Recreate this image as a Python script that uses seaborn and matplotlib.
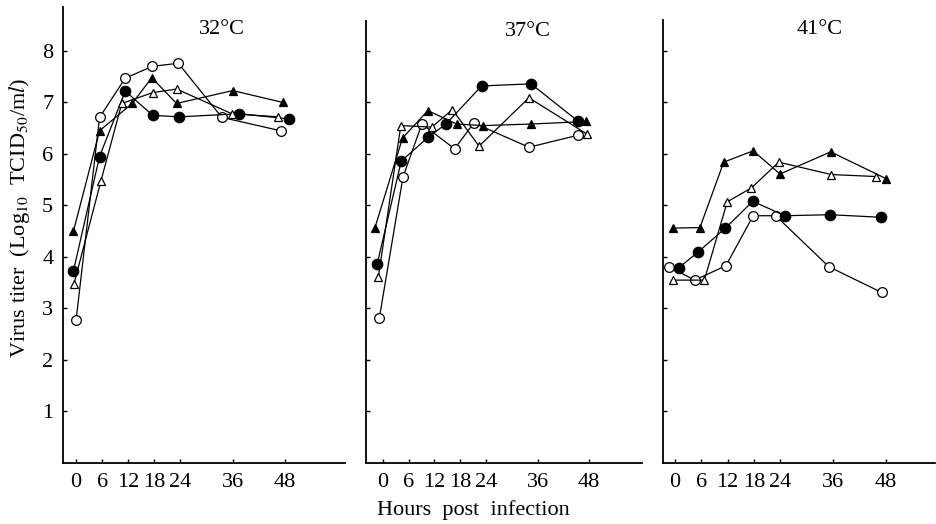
import matplotlib

matplotlib.use("Agg")
import matplotlib.pyplot as plt
import pandas as pd
import seaborn as sns

sns.set_style("ticks")
plt.rcParams["font.family"] = ["Liberation Serif", "DejaVu Serif"]
plt.rcParams["mathtext.fontset"] = "stix"
plt.rcParams["text.color"] = "black"
plt.rcParams["axes.labelcolor"] = "black"

# %%
# values (hours, log10 TCID50/ml)
temps = ["32°C", "37°C", "41°C"]
hour_ticks = [0, 6, 12, 18, 24, 36, 48]
titer_ticks = [1, 2, 3, 4, 5, 6, 7, 8]

# 32 C
h32_open_circ = [0.0, 5.4, 11.3, 17.5, 23.5, 33.5, 47.0]
t32_open_circ = [2.77, 6.71, 7.47, 7.70, 7.76, 6.71, 6.45]
h32_fill_circ = [-0.6, 5.4, 11.3, 17.6, 23.6, 37.5, 48.9]
t32_fill_circ = [3.73, 5.95, 7.22, 6.75, 6.72, 6.78, 6.68]
h32_open_tri = [-0.5, 5.7, 10.5, 17.6, 23.1, 35.8, 46.5]
t32_open_tri = [3.47, 5.47, 6.98, 7.19, 7.26, 6.78, 6.72]
h32_fill_tri = [-0.6, 5.4, 12.9, 17.4, 23.1, 36.0, 47.5]
t32_fill_tri = [4.50, 6.45, 6.98, 7.48, 6.98, 7.23, 7.00]

# 37 C
h37_open_circ = [-0.8, 4.7, 9.1, 16.7, 21.2, 34.0, 45.3]
t37_open_circ = [2.81, 5.55, 6.58, 6.10, 6.60, 6.13, 6.36]
h37_fill_circ = [-1.3, 4.3, 10.5, 14.7, 23.0, 34.5, 45.5]
t37_fill_circ = [3.86, 5.86, 6.32, 6.58, 7.32, 7.36, 6.63]
h37_open_tri = [-1.0, 4.2, 11.4, 16.2, 22.4, 34.0, 47.6]
t37_open_tri = [3.62, 6.55, 6.52, 6.86, 6.15, 7.09, 6.38]
h37_fill_tri = [-1.8, 4.6, 10.5, 17.2, 23.4, 34.5, 47.3]
t37_fill_tri = [4.57, 6.31, 6.84, 6.58, 6.55, 6.58, 6.63]

# 41 C
h41_open_circ = [-1.3, 4.5, 11.6, 17.8, 22.9, 35.0, 47.0]
t41_open_circ = [3.81, 3.55, 3.83, 4.80, 4.80, 3.81, 3.31]
h41_fill_circ = [0.9, 5.2, 11.5, 17.7, 25.0, 35.2, 46.8]
t41_fill_circ = [3.79, 4.09, 4.56, 5.08, 4.80, 4.82, 4.77]
h41_open_tri = [-0.4, 6.7, 11.9, 17.4, 23.6, 35.5, 45.8]
t41_open_tri = [3.55, 3.55, 5.07, 5.34, 5.84, 5.60, 5.56]
h41_fill_tri = [-0.4, 5.7, 11.1, 17.8, 23.9, 35.4, 48.0]
t41_fill_tri = [4.56, 4.57, 5.84, 6.06, 5.61, 6.04, 5.52]

# %%
panels = {
    "32°C": [
        ("open_circ", h32_open_circ, t32_open_circ),
        ("fill_circ", h32_fill_circ, t32_fill_circ),
        ("open_tri", h32_open_tri, t32_open_tri),
        ("fill_tri", h32_fill_tri, t32_fill_tri),
    ],
    "37°C": [
        ("open_circ", h37_open_circ, t37_open_circ),
        ("fill_circ", h37_fill_circ, t37_fill_circ),
        ("open_tri", h37_open_tri, t37_open_tri),
        ("fill_tri", h37_fill_tri, t37_fill_tri),
    ],
    "41°C": [
        ("open_circ", h41_open_circ, t41_open_circ),
        ("fill_circ", h41_fill_circ, t41_fill_circ),
        ("open_tri", h41_open_tri, t41_open_tri),
        ("fill_tri", h41_fill_tri, t41_fill_tri),
    ],
}

marker_styles = {
    "open_circ": dict(marker="o", markersize=7, markerfacecolor="white"),
    "fill_circ": dict(marker="o", markersize=7.5, markerfacecolor="black"),
    "open_tri": dict(marker="^", markersize=6, markerfacecolor="white"),
    "fill_tri": dict(marker="^", markersize=6, markerfacecolor="black"),
}

# axes rectangles (figure fractions) and limits
axes_rects = [
    [0.0673, 0.1164, 0.3013, 0.870],
    [0.3910, 0.1164, 0.2949, 0.8435],
    [0.7083, 0.1164, 0.2906, 0.8455],
]
x_limits = [(-3.0, 61.8), (-3.9, 60.3), (-2.7, 59.1)]
y_tops = [8.85, 8.58, 8.6]
title_pos = [(222, 29), (528, 32), (820, 30)]

# %%
fig = plt.figure(figsize=(9.36, 5.24), dpi=100)

for i, temp in enumerate(temps):
    ax = fig.add_axes(axes_rects[i])
    for key, hrs, titer in panels[temp]:
        df = pd.DataFrame({"hours": hrs, "titer": titer})
        sns.lineplot(
            data=df,
            x="hours",
            y="titer",
            ax=ax,
            estimator=None,
            sort=False,
            color="black",
            linewidth=0.9,
            markeredgecolor="black",
            markeredgewidth=0.9,
            **marker_styles[key],
        )
    ax.set_xlim(*x_limits[i])
    ax.set_ylim(0, y_tops[i])
    ax.set_xticks(hour_ticks)
    ax.set_yticks(titer_ticks)
    ax.tick_params(direction="in", length=3, width=1, labelsize=16, pad=7, colors="black")
    if i > 0:
        ax.set_yticklabels([])
    ax.set_xlabel("")
    ax.set_ylabel("")
    sns.despine(ax=ax)
    for side in ["left", "bottom"]:
        ax.spines[side].set_linewidth(1.3)
        ax.spines[side].set_color("black")
    fig.text(title_pos[i][0] / 936, 1 - title_pos[i][1] / 524, temp, ha="center", va="center", fontsize=16)

fig.text(
    20 / 936,
    1 - 218 / 524,
    r"Virus titer  (Log$_{\mathrm{10}}$  TCID$_{\mathrm{50}}$/m$\mathit{l}$)",
    rotation=90,
    ha="center",
    va="center",
    fontsize=16,
)
fig.text(473 / 936, 1 - 510 / 524, "Hours  post  infection", ha="center", va="center", fontsize=16)

fig.savefig("out.png", dpi=100)
